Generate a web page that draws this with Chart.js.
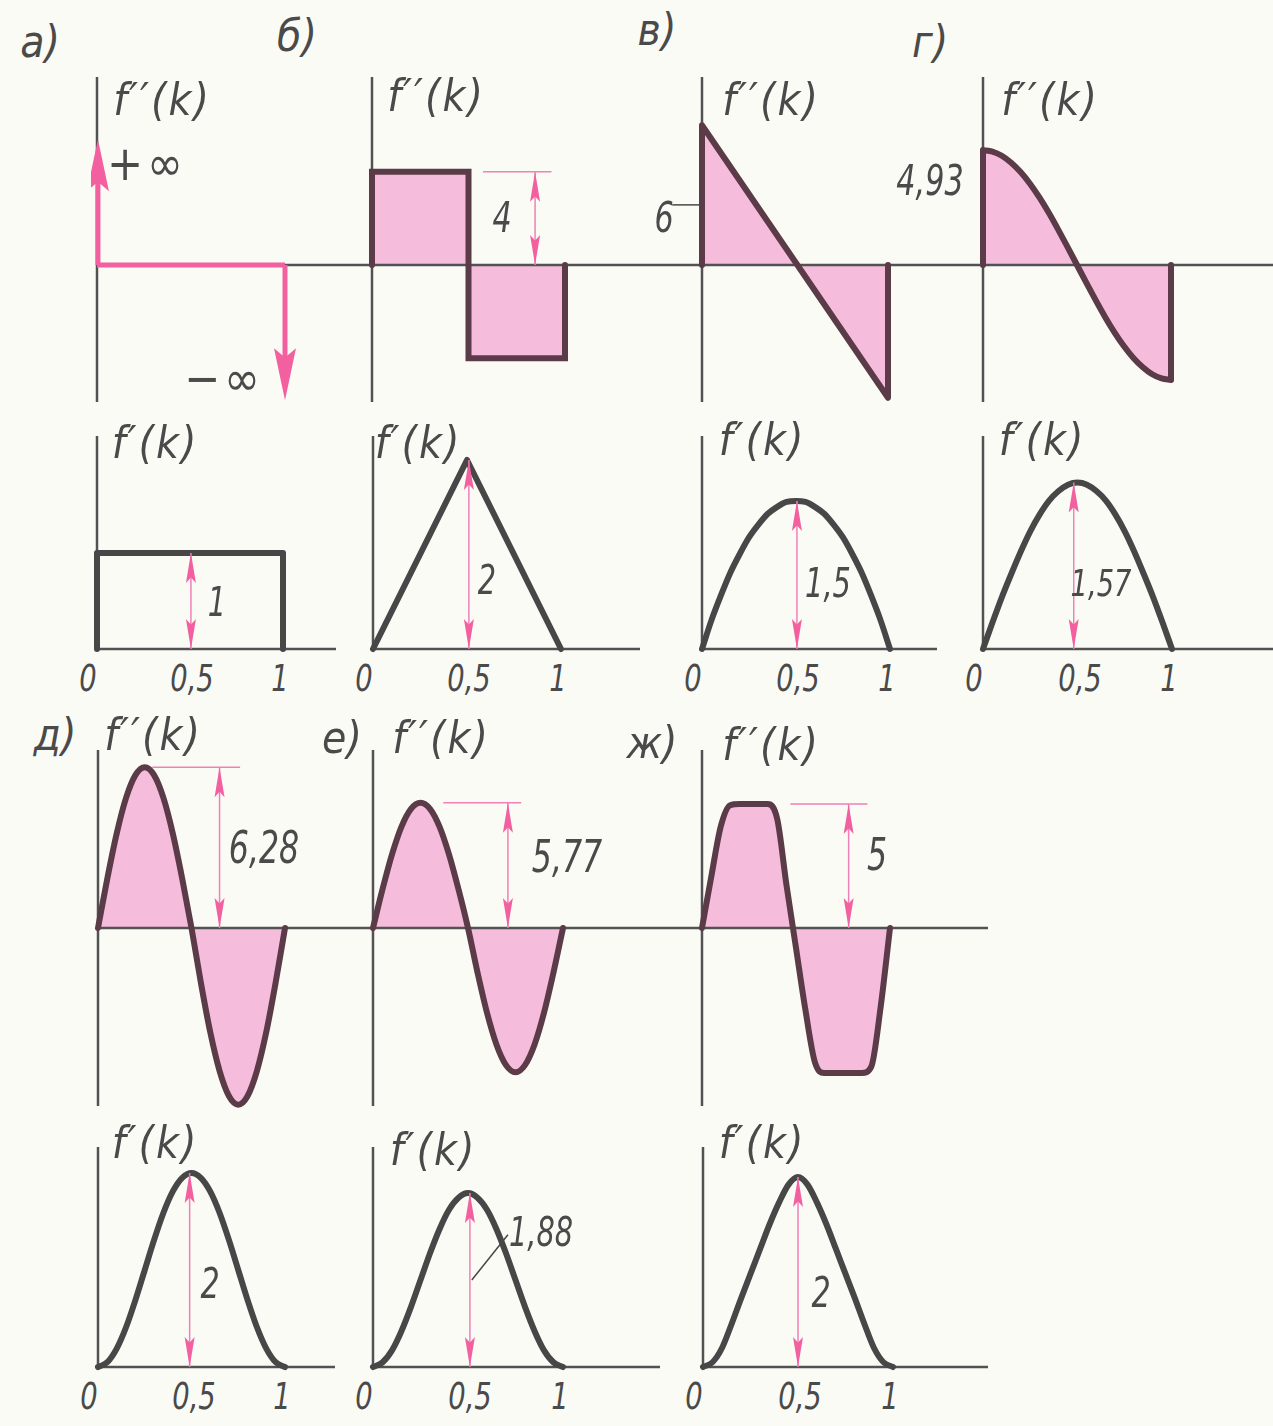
<!DOCTYPE html>
<html lang="ru">
<head>
<meta charset="utf-8">
<title>f″(k), f′(k)</title>
<script src="https://cdn.jsdelivr.net/npm/chart.js@4.4.1/dist/chart.umd.min.js"></script>
<style>
  html, body { margin: 0; padding: 0; }
  body {
    width: 1273px; height: 1426px; position: relative; overflow: hidden;
    background: #fbfbf6;
    font-family: "DejaVu Sans Condensed", "DejaVu Sans", sans-serif;
    font-stretch: condensed; font-style: oblique; color: #4a4a4a;
  }
  canvas.panel { position: absolute; }
  .lbl { position: absolute; transform: translate(-50%, -50%); white-space: nowrap; line-height: 1; }
  .lbl.num { transform: translate(-50%, -50%) scaleX(0.8); }
  .lbl.fn { letter-spacing: 2px; }
  .lbl.inf { letter-spacing: 4px; }
</style>
</head>
<body>
<script>
// k samples for the smooth curves
const kSteps = [0, 0.05, 0.1, 0.15, 0.2, 0.25, 0.3, 0.35, 0.4, 0.45, 0.5,
                0.55, 0.6, 0.65, 0.7, 0.75, 0.8, 0.85, 0.9, 0.95, 1];

// а) constant f'(k), infinite f''(k) at the ends
const aBaseK = [0, 1];
const aBaseF2 = [0, 0];
const aInfArrows = [5.4, -5.8];
const aRectK = [0, 0, 1, 1];
const aRectF1 = [0, 1, 1, 0];

// б) step f''(k), triangle f'(k)
const bBoxK = [0, 0, 0.5, 0.5, 1, 1];
const bBoxF2 = [0, 4, 4, -4, -4, 0];
const bTriK = [0, 0.5, 1];
const bTriF1 = [0, 2, 0];

// в) linear f''(k), parabolic f'(k)
const vLineK = [0, 0, 1, 1];
const vLineF2 = [0, 6, -5.7, 0];
const vF1 = [0, 0.29, 0.54, 0.77, 0.96, 1.13, 1.26, 1.37, 1.44, 1.49, 1.5,
             1.49, 1.44, 1.37, 1.26, 1.13, 0.96, 0.77, 0.54, 0.29, 0];

// г) cosine f''(k), sine f'(k)
const gF2 = [4.93, 4.87, 4.69, 4.39, 3.99, 3.49, 2.9, 2.24, 1.52, 0.77, 0,
             -0.77, -1.52, -2.24, -2.9, -3.49, -3.99, -4.39, -4.69, -4.87, -4.93];
const gF1 = [0, 0.25, 0.49, 0.71, 0.92, 1.11, 1.27, 1.4, 1.49, 1.55, 1.57,
             1.55, 1.49, 1.4, 1.27, 1.11, 0.92, 0.71, 0.49, 0.25, 0];

// д)
const dF2 = [0, 1.94, 3.69, 5.08, 5.97, 6.28, 5.97, 5.08, 3.69, 1.94, 0,
             -2.13, -4.06, -5.58, -6.56, -6.9, -6.56, -5.58, -4.06, -2.13, 0];
const dF1 = [0, 0.05, 0.19, 0.41, 0.69, 1, 1.31, 1.59, 1.81, 1.95, 2,
             1.95, 1.81, 1.59, 1.31, 1, 0.69, 0.41, 0.19, 0.05, 0];

// е)
const eF2 = [0, 1.78, 3.39, 4.67, 5.49, 5.77, 5.49, 4.67, 3.39, 1.78, 0,
             -2.05, -3.91, -5.38, -6.32, -6.65, -6.32, -5.38, -3.91, -2.05, 0];
const eF1 = [0, 0.05, 0.18, 0.39, 0.65, 0.94, 1.23, 1.49, 1.7, 1.83, 1.88,
             1.83, 1.7, 1.49, 1.23, 0.94, 0.65, 0.39, 0.18, 0.05, 0];

// ж) trapezoidal f''(k)
const zhF2 = [0, 2.1, 4.1, 4.95, 5, 5, 5, 5, 4.4, 1.7, -0.8,
              -3.3, -5.4, -5.85, -5.85, -5.85, -5.85, -5.85, -5.6, -3.2, 0];
const zhF1 = [0, 0.05, 0.2, 0.45, 0.72, 0.98, 1.24, 1.5, 1.73, 1.92, 2,
              1.92, 1.73, 1.5, 1.24, 0.98, 0.72, 0.45, 0.2, 0.05, 0];

// x axis ticks under the f'(k) plots
const tickValues = [0, 0.5, 1];

const INK = '#474747';
const INK_F2 = '#5a3b47';
const AXIS = '#525252';
const FILL = '#f5bcdb';
const PINK = '#f2609f';
const PINK_THIN = '#f080b8';

function fmt(v) { return String(v).replace('.', ','); }

function pts(ks, vals) { return ks.map((k, i) => ({ x: k, y: vals[i] })); }

function curve(ks, vals, extra) {
  return Object.assign({
    data: pts(ks, vals),
    borderColor: INK, borderWidth: 6, tension: 0, fill: false,
    pointRadius: 0, borderJoinStyle: 'round', borderCapStyle: 'round'
  }, extra || {});
}

function smooth(vals, extra) {
  return curve(kSteps, vals, Object.assign({ cubicInterpolationMode: 'monotone' }, extra || {}));
}

function arrowHead(ctx, x, y, dir, len, hw) {
  ctx.beginPath();
  ctx.moveTo(x, y);
  ctx.lineTo(x - hw, y - dir * len);
  ctx.lineTo(x, y - dir * len * 0.82);
  ctx.lineTo(x + hw, y - dir * len);
  ctx.closePath();
  ctx.fill();
}

function framePlugin(cfg) {
  return {
    id: 'frame',
    // axes sit on top of the pink fill but under the curves
    beforeDatasetsDraw(chart) {
      const { ctx, chartArea, scales: { x, y } } = chart;
      const x0 = x.getPixelForValue(0), y0 = y.getPixelForValue(0);
      ctx.save();
      ctx.strokeStyle = AXIS;
      ctx.lineWidth = 2.5;
      ctx.beginPath();
      ctx.moveTo(x0, chartArea.top);
      ctx.lineTo(x0, cfg.f1 ? y0 : chartArea.bottom - (cfg.axisTrim || 0));
      ctx.moveTo(x0 - 1, y0);
      ctx.lineTo(chartArea.right, y0);
      ctx.stroke();
      ctx.restore();
    },
    afterDatasetsDraw(chart) {
      const { ctx, scales: { x, y } } = chart;
      ctx.save();
      (cfg.dims || []).forEach(d => {
        const px = x.getPixelForValue(d.x);
        const p0 = y.getPixelForValue(d.y0), p1 = y.getPixelForValue(d.y1);
        const dir = Math.sign(p1 - p0);
        if (d.kind === 'inf') {
          ctx.strokeStyle = PINK; ctx.fillStyle = PINK; ctx.lineWidth = 5;
          ctx.beginPath();
          ctx.moveTo(px, p0);
          ctx.lineTo(px, p1 - dir * 40);
          ctx.stroke();
          arrowHead(ctx, px, p1, dir, 52, 11);
        } else {
          ctx.strokeStyle = PINK_THIN; ctx.fillStyle = PINK; ctx.lineWidth = 1.5;
          ctx.beginPath();
          ctx.moveTo(px, p0);
          ctx.lineTo(px, p1);
          if (d.ext) {
            ctx.moveTo(x.getPixelForValue(d.ext[0]), p1);
            ctx.lineTo(x.getPixelForValue(d.ext[1]), p1);
          }
          ctx.stroke();
          arrowHead(ctx, px, p1, dir, 30, 5);
          arrowHead(ctx, px, p0, -dir, 30, 5);
        }
      });
      (cfg.leaders || []).forEach(l => {
        ctx.strokeStyle = INK; ctx.lineWidth = 1.5;
        ctx.beginPath();
        ctx.moveTo(x.getPixelForValue(l.x1), y.getPixelForValue(l.y1));
        ctx.lineTo(x.getPixelForValue(l.x2), y.getPixelForValue(l.y2));
        ctx.stroke();
      });
      ctx.restore();
    }
  };
}

function makePanel(cfg) {
  const padL = cfg.padL || 6;
  const left = cfg.x0 - padL;
  const w = cfg.right - left, h = cfg.bottom - cfg.top;
  const canvas = document.createElement('canvas');
  canvas.className = 'panel';
  canvas.width = w; canvas.height = h;
  canvas.style.left = left + 'px'; canvas.style.top = cfg.top + 'px';
  canvas.style.width = w + 'px'; canvas.style.height = h + 'px';
  document.body.appendChild(canvas);

  const chart = new Chart(canvas.getContext('2d'), {
    type: 'line',
    data: { datasets: cfg.datasets },
    options: {
      responsive: false,
      animation: false,
      events: [],
      layout: { padding: 0 },
      scales: {
        x: { type: 'linear', display: false, min: -padL / cfg.kPx, max: (cfg.right - cfg.x0) / cfg.kPx },
        y: { type: 'linear', display: false,
             min: -(cfg.bottom - cfg.zeroY) / cfg.unitPx, max: (cfg.zeroY - cfg.top) / cfg.unitPx }
      },
      plugins: {
        legend: { display: false },
        tooltip: { enabled: false },
        filler: { drawTime: 'beforeDatasetsDraw' }
      }
    },
    plugins: [framePlugin(cfg)]
  });

  // tick labels under the f'(k) plots follow the x scale
  if (cfg.f1) {
    const nudge = [-9, 2, -3];
    const base = cfg.top + chart.scales.y.getPixelForValue(0);
    tickValues.forEach((v, i) => {
      addText(fmt(v), left + chart.scales.x.getPixelForValue(v) + nudge[i], base + 29, 38, 'num');
    });
  }
  return chart;
}

function addText(text, x, y, size, cls) {
  const el = document.createElement('div');
  el.className = 'lbl' + (cls ? ' ' + cls : '');
  el.textContent = text;
  el.style.left = x + 'px';
  el.style.top = y + 'px';
  el.style.fontSize = size + 'px';
  document.body.appendChild(el);
}

const f2Fill = { fill: 'origin', backgroundColor: FILL, borderColor: INK_F2 };

// ---- upper block: а) б) в) г) ----
const topRow = { top: 77, bottom: 402, zeroY: 265, unitPx: 23.3 };
const f1Row = { top: 436, bottom: 653, zeroY: 649, f1: true };

makePanel(Object.assign({}, topRow, {
  x0: 97, right: 372, kPx: 188,
  datasets: [curve(aBaseK, aBaseF2, { borderColor: PINK, borderWidth: 5, borderCapStyle: 'butt' })],
  dims: [{ kind: 'inf', x: 0.005, y0: 0, y1: aInfArrows[0] }, { kind: 'inf', x: 1, y0: 0, y1: aInfArrows[1] }]
}));
makePanel(Object.assign({}, topRow, {
  x0: 372, right: 702, kPx: 193,
  datasets: [curve(bBoxK, bBoxF2, Object.assign({ borderJoinStyle: 'miter' }, f2Fill))],
  dims: [{ x: 0.845, y0: 0, y1: bBoxF2[1], ext: [0.575, 0.93] }]
}));
makePanel(Object.assign({}, topRow, {
  x0: 702, right: 983, kPx: 186, padL: 36,
  datasets: [curve(vLineK, vLineF2, f2Fill)],
  leaders: [{ x1: -0.16, y1: 2.58, x2: 0, y2: 2.58 }]
}));
makePanel(Object.assign({}, topRow, {
  x0: 983, right: 1273, kPx: 188,
  datasets: [
    curve([0, 0, 0.5, 1, 1], [0, gF2[0], null, gF2[gF2.length - 1], 0], { borderColor: INK_F2 }),
    smooth(gF2, f2Fill)
  ]
}));

makePanel(Object.assign({}, f1Row, {
  x0: 97, right: 336, kPx: 186, unitPx: 96,
  datasets: [curve(aRectK, aRectF1)],
  dims: [{ x: 0.505, y0: 0, y1: aRectF1[1] }]
}));
makePanel(Object.assign({}, f1Row, {
  x0: 373, right: 640, kPx: 188, unitPx: 94.5,
  datasets: [curve(bTriK, bTriF1)],
  dims: [{ x: 0.51, y0: 0, y1: bTriF1[1] }]
}));
makePanel(Object.assign({}, f1Row, {
  x0: 702, right: 937, kPx: 188, unitPx: 98.7,
  datasets: [smooth(vF1)],
  dims: [{ x: 0.505, y0: 0, y1: vF1[10] }]
}));
makePanel(Object.assign({}, f1Row, {
  x0: 983, right: 1273, kPx: 189, unitPx: 106,
  datasets: [smooth(gF1)],
  dims: [{ x: 0.48, y0: 0, y1: gF1[10] }]
}));

// ---- lower block: д) е) ж) ----
const botRow = { top: 750, bottom: 1112, zeroY: 928, axisTrim: 6 };
const f1Bot = { top: 1147, bottom: 1371, zeroY: 1367, f1: true };

makePanel(Object.assign({}, botRow, {
  x0: 98, right: 373, kPx: 187, unitPx: 25.6,
  datasets: [smooth(dF2, f2Fill)],
  dims: [{ x: 0.65, y0: 0, y1: dF2[5], ext: [0.29, 0.76] }]
}));
makePanel(Object.assign({}, botRow, {
  x0: 373, right: 702, kPx: 190, unitPx: 21.7,
  datasets: [smooth(eF2, f2Fill)],
  dims: [{ x: 0.71, y0: 0, y1: eF2[5], ext: [0.37, 0.78] }]
}));
makePanel(Object.assign({}, botRow, {
  x0: 702, right: 988, kPx: 188, unitPx: 24.8,
  datasets: [smooth(zhF2, f2Fill)],
  dims: [{ x: 0.78, y0: 0, y1: zhF2[5], ext: [0.47, 0.88] }]
}));

makePanel(Object.assign({}, f1Bot, {
  x0: 98, right: 335, kPx: 187, unitPx: 97,
  datasets: [smooth(dF1)],
  dims: [{ x: 0.49, y0: 0, y1: dF1[10] }]
}));
makePanel(Object.assign({}, f1Bot, {
  x0: 373, right: 660, kPx: 190, unitPx: 92.5,
  datasets: [smooth(eF1)],
  dims: [{ x: 0.51, y0: 0, y1: eF1[10] }],
  leaders: [{ x1: 0.52, y1: 0.94, x2: 0.71, y2: 1.43 }]
}));
makePanel(Object.assign({}, f1Bot, {
  x0: 703, right: 988, kPx: 190, unitPx: 95,
  datasets: [smooth(zhF1)],
  dims: [{ x: 0.5, y0: 0, y1: zhF1[10] }]
}));

// ---- lettering ----
[['а)', 40, 42], ['б)', 297, 36], ['в)', 657, 30], ['г)', 930, 42],
 ['д)', 55, 735], ['е)', 342, 738], ['ж)', 652, 743]].forEach(t => addText(t[0], t[1], t[2], 44));

[[162, 100], [436, 96], [771, 100], [1050, 100], [153, 735], [441, 738], [771, 745]]
  .forEach(p => addText('f′′(k)', p[0], p[1], 44, 'fn'));
[[155, 443], [418, 443], [762, 440], [1042, 440], [155, 1143], [433, 1150], [762, 1143]]
  .forEach(p => addText('f′(k)', p[0], p[1], 44, 'fn'));

addText('+∞', 147, 163, 48, 'inf');
addText('−∞', 224, 378, 48, 'inf');

addText(fmt(bBoxF2[1]), 502, 218, 42, 'num');
addText(fmt(vLineF2[1]), 664, 218, 42, 'num');
addText(fmt(gF2[0]), 930, 181, 42, 'num');
addText(fmt(aRectF1[1]), 217, 602, 40, 'num');
addText(fmt(bTriF1[1]), 487, 580, 40, 'num');
addText(fmt(vF1[10]), 828, 583, 40, 'num');
addText(fmt(gF1[10]), 1101, 583, 38, 'num');
addText(fmt(dF2[5]), 264, 848, 44, 'num');
addText(fmt(eF2[5]), 567, 857, 44, 'num');
addText(fmt(zhF2[5]), 877, 855, 44, 'num');
addText(fmt(dF1[10]), 210, 1284, 42, 'num');
addText(fmt(eF1[10]), 541, 1232, 40, 'num');
addText(fmt(zhF1[10]), 821, 1293, 42, 'num');
</script>
</body>
</html>
